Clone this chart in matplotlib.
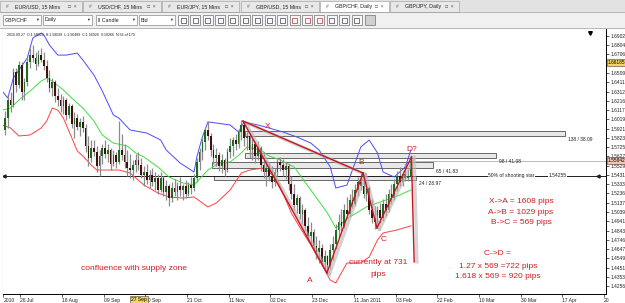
import matplotlib
matplotlib.use('Agg')
import matplotlib.pyplot as plt
from matplotlib.patches import Rectangle
import numpy as np

plt.rcParams['font.family'] = ['Liberation Sans', 'DejaVu Sans']

# GBP/CHF daily candles (Jul 2010 - Feb 2011)
opens = [1.5907, 1.6033, 1.6224, 1.6171, 1.6520, 1.6382, 1.6594, 1.6309, 1.6414, 1.6626,
         1.6699, 1.6667, 1.6605, 1.6699, 1.6647, 1.6584, 1.6456, 1.6350, 1.6414, 1.6267,
         1.6224, 1.6161, 1.6224, 1.6065, 1.6161, 1.5971, 1.6033, 1.5939, 1.5992, 1.5928,
         1.5738, 1.5610, 1.5716, 1.5674, 1.5527, 1.5632, 1.5716, 1.5653, 1.5695, 1.5548,
         1.5642, 1.5569, 1.5695, 1.5642, 1.5569, 1.5505, 1.5484, 1.5537, 1.5590, 1.5537,
         1.5431, 1.5463, 1.5378, 1.5431, 1.5357, 1.5399, 1.5273, 1.5399, 1.5252, 1.5315,
         1.5188, 1.5293, 1.5252, 1.5315, 1.5273, 1.5315, 1.5231, 1.5325, 1.5293, 1.5399,
         1.5569, 1.5674, 1.5780, 1.5907, 1.5844, 1.5695, 1.5610, 1.5642, 1.5527, 1.5590,
         1.5484, 1.5674, 1.5738, 1.5801, 1.5759, 1.5886, 1.5960, 1.5822, 1.5844, 1.5695,
         1.5759, 1.5632, 1.5716, 1.5537, 1.5463, 1.5505, 1.5421, 1.5357, 1.5463, 1.5569,
         1.5537, 1.5484, 1.5527, 1.5336, 1.5231, 1.5114, 1.5188, 1.5019, 1.5061, 1.4893,
         1.4787, 1.4829, 1.4681, 1.4617, 1.4659, 1.4512, 1.4575, 1.4480, 1.4638, 1.4702,
         1.4850, 1.4935, 1.4893, 1.5061, 1.5019, 1.5167, 1.5125, 1.5273, 1.5357, 1.5315,
         1.5231, 1.5293, 1.5061, 1.4976, 1.4935, 1.5061, 1.4976, 1.5125, 1.5061, 1.5231,
         1.5188, 1.5336, 1.5421, 1.5357, 1.5442, 1.5399, 1.5421]
highs = [1.6107, 1.6277, 1.6309, 1.6562, 1.6562, 1.6636, 1.6626, 1.6456, 1.6667, 1.6773,
         1.6805, 1.6731, 1.6752, 1.6773, 1.6731, 1.6647, 1.6541, 1.6456, 1.6435, 1.6350,
         1.6288, 1.6267, 1.6245, 1.6192, 1.6182, 1.6097, 1.6076, 1.6033, 1.6055, 1.5971,
         1.5844, 1.5801, 1.5801, 1.5738, 1.5695, 1.5759, 1.5801, 1.5759, 1.5716, 1.5695,
         1.5674, 1.6002, 1.5865, 1.5759, 1.5695, 1.5653, 1.5590, 1.5653, 1.5674, 1.5610,
         1.5527, 1.5548, 1.5484, 1.5505, 1.5463, 1.5442, 1.5463, 1.5421, 1.5378, 1.5336,
         1.5357, 1.5389, 1.5357, 1.5410, 1.5336, 1.5378, 1.5357, 1.5410, 1.5442, 1.5610,
         1.5716, 1.5822, 1.5939, 1.6002, 1.5875, 1.5759, 1.5716, 1.5674, 1.5653, 1.5610,
         1.5716, 1.5822, 1.5833, 1.5865, 1.5918, 1.6013, 1.5992, 1.5886, 1.5865, 1.5812,
         1.5790, 1.5790, 1.5738, 1.5674, 1.5590, 1.5569, 1.5527, 1.5505, 1.5600, 1.5621,
         1.5600, 1.5579, 1.5548, 1.5421, 1.5336, 1.5231, 1.5210, 1.5125, 1.5082, 1.4987,
         1.4935, 1.4861, 1.4787, 1.4744, 1.4702, 1.4638, 1.4585, 1.4702, 1.4787, 1.4914,
         1.5019, 1.5072, 1.5125, 1.5199, 1.5231, 1.5283, 1.5336, 1.5410, 1.5463, 1.5421,
         1.5368, 1.5315, 1.5178, 1.5104, 1.5104, 1.5135, 1.5178, 1.5231, 1.5283, 1.5336,
         1.5389, 1.5474, 1.5516, 1.5474, 1.5548, 1.5495, 1.5642]
lows = [1.5854, 1.5928, 1.6097, 1.6150, 1.6309, 1.6350, 1.6224, 1.6224, 1.6372, 1.6562,
        1.6626, 1.6541, 1.6584, 1.6626, 1.6541, 1.6414, 1.6309, 1.6267, 1.6203, 1.6161,
        1.6097, 1.6076, 1.6013, 1.6033, 1.5928, 1.5822, 1.5907, 1.5844, 1.5886, 1.5674,
        1.5527, 1.5569, 1.5632, 1.5463, 1.5421, 1.5548, 1.5610, 1.5569, 1.5484, 1.5527,
        1.5505, 1.5548, 1.5590, 1.5505, 1.5421, 1.5399, 1.5378, 1.5463, 1.5484, 1.5399,
        1.5315, 1.5336, 1.5293, 1.5315, 1.5273, 1.5231, 1.5252, 1.5210, 1.5167, 1.5104,
        1.5146, 1.5210, 1.5167, 1.5210, 1.5167, 1.5188, 1.5210, 1.5231, 1.5262, 1.5357,
        1.5484, 1.5590, 1.5695, 1.5801, 1.5632, 1.5548, 1.5527, 1.5474, 1.5452, 1.5421,
        1.5463, 1.5610, 1.5632, 1.5695, 1.5716, 1.5801, 1.5738, 1.5695, 1.5610, 1.5590,
        1.5558, 1.5590, 1.5474, 1.5399, 1.5315, 1.5368, 1.5293, 1.5315, 1.5421, 1.5474,
        1.5421, 1.5389, 1.5273, 1.5178, 1.5061, 1.5029, 1.4966, 1.4914, 1.4840, 1.4734,
        1.4681, 1.4628, 1.4544, 1.4501, 1.4470, 1.4416, 1.4385, 1.4438, 1.4533, 1.4649,
        1.4765, 1.4840, 1.4871, 1.4976, 1.4998, 1.5082, 1.5104, 1.5210, 1.5273, 1.5188,
        1.5156, 1.5019, 1.4924, 1.4861, 1.4893, 1.4924, 1.4945, 1.4998, 1.5040, 1.5125,
        1.5167, 1.5262, 1.5315, 1.5315, 1.5368, 1.5368, 1.5389]
closes = [1.6033, 1.6224, 1.6171, 1.6520, 1.6382, 1.6594, 1.6309, 1.6414, 1.6626, 1.6699,
          1.6667, 1.6605, 1.6699, 1.6647, 1.6584, 1.6456, 1.6350, 1.6414, 1.6267, 1.6224,
          1.6161, 1.6224, 1.6065, 1.6161, 1.5971, 1.6033, 1.5939, 1.5992, 1.5928, 1.5738,
          1.5610, 1.5716, 1.5674, 1.5527, 1.5632, 1.5716, 1.5653, 1.5695, 1.5548, 1.5642,
          1.5569, 1.5695, 1.5642, 1.5569, 1.5505, 1.5484, 1.5537, 1.5590, 1.5537, 1.5431,
          1.5463, 1.5378, 1.5431, 1.5357, 1.5399, 1.5273, 1.5399, 1.5252, 1.5315, 1.5188,
          1.5293, 1.5252, 1.5315, 1.5273, 1.5315, 1.5231, 1.5325, 1.5293, 1.5399, 1.5569,
          1.5674, 1.5780, 1.5907, 1.5844, 1.5695, 1.5610, 1.5642, 1.5527, 1.5590, 1.5484,
          1.5674, 1.5738, 1.5801, 1.5759, 1.5886, 1.5960, 1.5822, 1.5844, 1.5695, 1.5759,
          1.5632, 1.5716, 1.5537, 1.5463, 1.5505, 1.5421, 1.5357, 1.5463, 1.5569, 1.5537,
          1.5484, 1.5527, 1.5336, 1.5231, 1.5114, 1.5188, 1.5019, 1.5061, 1.4893, 1.4787,
          1.4829, 1.4681, 1.4617, 1.4659, 1.4512, 1.4575, 1.4480, 1.4638, 1.4702, 1.4850,
          1.4935, 1.4893, 1.5061, 1.5019, 1.5167, 1.5125, 1.5273, 1.5357, 1.5315, 1.5231,
          1.5293, 1.5061, 1.4976, 1.4935, 1.5061, 1.4976, 1.5125, 1.5061, 1.5231, 1.5188,
          1.5336, 1.5421, 1.5357, 1.5442, 1.5399, 1.5421, 1.5584]

# Bollinger bands (bar index, price)
upper_bars = [-1, 1, 3, 5, 8, 10, 13, 14, 16, 19, 22, 26, 28, 32, 35, 39, 41, 45, 51, 56,
              58, 63, 68, 69, 71, 73, 76, 81, 84, 86, 91, 95, 100, 105, 110, 113, 117, 119,
              123, 128, 131, 134, 136, 140, 144, 146]
upper_band = [1.6319, 1.6245, 1.6456, 1.6541, 1.6667, 1.6879, 1.6932, 1.6911, 1.6805, 1.6699,
              1.6699, 1.6720, 1.6647, 1.6488, 1.6319, 1.6065, 1.6033, 1.5907, 1.5875, 1.5801,
              1.5695, 1.5558, 1.5463, 1.5621, 1.5833, 1.5992, 1.5981, 1.5960, 1.5886, 1.5992,
              1.5960, 1.5928, 1.5886, 1.5833, 1.5769, 1.5695, 1.5516, 1.5294, 1.5325, 1.5727,
              1.5801, 1.5664, 1.5463, 1.5410, 1.5516, 1.5695]
mid_bars = [-1, 2, 5, 9, 13, 15, 17, 21, 24, 28, 32, 35, 39, 44, 47, 50, 55, 59, 64, 68,
            73, 77, 81, 85, 87, 92, 95, 99, 104, 110, 116, 119, 124, 130, 137, 142, 146]
mid_band = [1.6118, 1.6139, 1.6224, 1.6319, 1.6424, 1.6456, 1.6424, 1.6330, 1.6245, 1.6139,
            1.6002, 1.5854, 1.5769, 1.5738, 1.5664, 1.5621, 1.5516, 1.5410, 1.5347, 1.5325,
            1.5484, 1.5558, 1.5569, 1.5664, 1.5727, 1.5695, 1.5632, 1.5590, 1.5516, 1.5273,
            1.5029, 1.4871, 1.4987, 1.5093, 1.5167, 1.5220, 1.5273]
lower_bars = [-1, 2, 5, 9, 13, 15, 17, 19, 21, 23, 26, 28, 31, 33, 37, 41, 45, 50, 55, 59,
              64, 68, 73, 76, 81, 85, 88, 93, 95, 98, 103, 106, 110, 113, 117, 119, 123, 128,
              131, 134, 136, 141, 146]
lower_band = [1.5960, 1.5928, 1.5844, 1.5854, 1.5928, 1.6002, 1.6139, 1.6118, 1.6033, 1.5896,
              1.5685, 1.5632, 1.5537, 1.5484, 1.5484, 1.5484, 1.5452, 1.5325, 1.5241, 1.5199,
              1.5188, 1.5199, 1.5093, 1.5135, 1.5273, 1.5452, 1.5484, 1.5505, 1.5463, 1.5378,
              1.5029, 1.4882, 1.4691, 1.4533, 1.4321, 1.4290, 1.4501, 1.4501, 1.4564, 1.4744,
              1.4818, 1.4850, 1.4893]

# harmonic pattern points
pattern_names = ['X', 'A', 'B', 'C', 'D']
pattern_bars = [85.6, 115.8, 128.8, 133.8, 146.2]
pattern_prices = [1.6002, 1.4396, 1.5452, 1.4871, 1.5621]
current_end = (147.2, 1.4512)

# supply zone rectangles
zone_labels = ['138 / 38.09', '98 / 41.08', '65 / 41.83', '24 / 28.97']
zone_top = [1.5896, 1.5664, 1.5568, 1.5421]
zone_bottom = [1.5844, 1.5611, 1.5505, 1.5378]
zone_start = [86.3, 86.3, 74.5, 75.2]
zone_end = [201.4, 176.6, 154.0, 147.8]

half_star = 1.54255
bid_price = 1.55842
marker_price = 1.66185

price_ticks = [1.6902, 1.6804, 1.6706, 1.6509, 1.6411, 1.6312, 1.6216, 1.6117, 1.6019, 1.5921,
               1.5823, 1.5725, 1.5627, 1.5529, 1.5431, 1.5333, 1.5236, 1.5137, 1.5039, 1.4941,
               1.4843, 1.4746, 1.4647, 1.4549, 1.4451, 1.4353, 1.4256]
date_bars = [-0.6, 5.5, 20.5, 35.5, 50.5, 65.5, 80.5, 95.5, 110.5, 125.5, 140.5, 155.5, 170.5,
             185.5, 200.5, 215.5]
date_labels = ['2010', '26 Jul', '18 Aug', '09 Sep', '30 Sep', '21 Oct', '11 Nov', '02 Dec',
               '23 Dec', '11 Jan 2011', '03 Feb', '22 Feb', '10 Mar', '30 Mar', '17 Apr', '20']

W, H = 625, 303
fig = plt.figure(figsize=(W / 100, H / 100), dpi=100)

# window chrome drawn in pixel coordinates
ui = fig.add_axes([0, 0, 1, 1], zorder=0)
ui.set_xlim(0, W)
ui.set_ylim(H, 0)
ui.axis('off')
ui.add_patch(Rectangle((0, 0), W, 12, color='#e2e2e2'))
ui.add_patch(Rectangle((0, 12), W, 16, color='#f0f0f0'))
ui.plot([0, W], [12, 12], color='#a0a0a0', lw=0.5)
ui.plot([0, W], [28, 28], color='#a0a0a0', lw=0.5)

tabs = ['EUR/USD, 15 Mins', 'USD/CHF, 15 Mins', 'EUR/JPY, 15 Mins', 'GBP/USD, 15 Mins',
        'GBP/CHF, Daily', 'GBP/JPY, Daily']
tab_left = [0, 83, 162, 241, 320, 390]
tab_right = [82, 161, 239, 319, 389, 459]
for name, l, r in zip(tabs, tab_left, tab_right):
    active = name == 'GBP/CHF, Daily'
    ui.add_patch(Rectangle((l, 1), r - l, 11, facecolor='white' if active else '#e8e8e8',
                           edgecolor='#a8a8a8', lw=0.5))
    ui.text(l + 6, 6.5, '#', fontsize=3.5, color='#707070', va='center')
    ui.text(l + 15, 6.5, name, fontsize=3.8, color='#202020', va='center')
    ui.text(r - 14, 6.5, '\u25a1  \u00d7', fontsize=3.6, color='#505050', va='center')

combos = ['GBP/CHF', 'Daily', '\u2016 Candle', 'Bid']
combo_left = [3, 43, 96, 139]
combo_right = [41, 92, 137, 175]
for name, l, r in zip(combos, combo_left, combo_right):
    ui.add_patch(Rectangle((l, 15), r - l, 10, facecolor='white', edgecolor='#8a8a8a', lw=0.5))
    ui.text(l + 2, 20, name, fontsize=3.8, color='#202020', va='center')
    ui.text(r - 4, 20, '\u25bc', fontsize=2.8, color='#303030', va='center', ha='center')
for k in range(15):
    l = 178 + k * 12.4
    ui.add_patch(Rectangle((l, 15), 10, 10, facecolor='#f8f8f8', edgecolor='#707070', lw=0.5))
    ui.add_patch(Rectangle((l + 2.5, 17.5), 5, 5, facecolor='none',
                           edgecolor='#c03030' if k in (9, 10, 11) else '#404060', lw=0.5))
ui.add_patch(Rectangle((365, 15), 10, 10, facecolor='#d0d0d0', edgecolor='#707070', lw=0.5))

# chart
ax = fig.add_axes([3 / W, 9 / H, 603 / W, 265 / H], zorder=1)
ax.set_facecolor('white')
ax.set_xlim(-0.72, 216.2)
ax.set_ylim(1.4173, 1.6975)

for lab, top, bot, x0, x1 in zip(zone_labels, zone_top, zone_bottom, zone_start, zone_end):
    ax.add_patch(Rectangle((x0, bot), x1 - x0, top - bot, facecolor='#e6e6e6',
                           edgecolor='#404040', lw=0.6, alpha=0.9, zorder=2))
    ax.text(x1 + 1, bot - 0.0012, lab, fontsize=3.5, color='#202020', va='top', zorder=6)

ax.axhline(half_star, color='#202020', lw=0.7, zorder=2.5)
ax.text(190.5, half_star, '50% of shooting star', fontsize=3.6, ha='right', va='center',
        color='#202020', zorder=6, bbox=dict(facecolor='white', edgecolor='none', pad=0.3))
ax.text(195.4, half_star, '1.54255', fontsize=3.6, ha='left', va='center', color='#202020',
        zorder=6, bbox=dict(facecolor='white', edgecolor='none', pad=0.3))
ax.plot([213.5], [half_star], marker='<', ms=2.2, color='#202020', zorder=6)
ax.plot([-0.3], [half_star], marker='<', ms=2.2, color='#202020', zorder=6)

ax.plot([146.5, 216.2], [bid_price, bid_price], color='#a0a0a0', lw=0.5, zorder=2)

ax.plot(upper_bars, upper_band, color='#4a4aff', lw=0.7, zorder=2.6)
ax.plot(mid_bars, mid_band, color='#3ee03e', lw=0.7, zorder=2.6)
ax.plot(lower_bars, lower_band, color='#ff4040', lw=0.7, zorder=2.6)

x = np.arange(len(closes))
o = np.array(opens)
c = np.array(closes)
ax.vlines(x, lows, highs, color='#8c8c8c', lw=0.9, zorder=3)
body_col = ['#1c6a1c' if cc >= oo else '#3e1010' for oo, cc in zip(o, c)]
ax.bar(x, c - o, bottom=o, width=0.6, color=body_col, zorder=4)

# XABCD pattern with grey shadow
segments = [(0, 1), (1, 2), (0, 2), (2, 3), (3, 4)]
for a, b in segments:
    ax.plot([pattern_bars[a] + 0.9, pattern_bars[b] + 0.9],
            [pattern_prices[a] - 0.0015, pattern_prices[b] - 0.0015],
            color='#b4b4b4', lw=2.4, alpha=0.6, zorder=4.5, solid_capstyle='round')
    ax.plot([pattern_bars[a], pattern_bars[b]], [pattern_prices[a], pattern_prices[b]],
            color='#c8141e', lw=1.0, zorder=5)
ax.plot([pattern_bars[4] + 1.0, current_end[0] + 1.0], [pattern_prices[4], current_end[1]],
        color='#bcbcbc', lw=2.4, alpha=0.6, zorder=4.5)
ax.plot([pattern_bars[4], current_end[0]], [pattern_prices[4], current_end[1]],
        color='#c8141e', lw=1.0, zorder=5)

red = '#d01c24'
lab_pos = {'X': (94.6, 1.5939), 'A': (109.7, 1.4311), 'B': (128.0, 1.5568),
           'C': (136.3, 1.4744), 'D?': (146.4, 1.5700)}
for name, (bx, by) in lab_pos.items():
    ax.text(bx, by, name, fontsize=6, color=red, ha='center', va='center', zorder=6)

ax.text(134.2, 1.4501, 'currently at 731', fontsize=6, color=red, ha='center', va='center', zorder=6)
ax.text(134.2, 1.4374, 'pips', fontsize=6, color=red, ha='center', va='center', zorder=6)
ax.text(185.6, 1.5146, 'X->A = 1608 pips', fontsize=6, color=red, ha='center', va='center')
ax.text(185.6, 1.5040, 'A->B = 1029 pips', fontsize=6, color=red, ha='center', va='center')
ax.text(185.6, 1.4934, 'B->C = 569 pips', fontsize=6, color=red, ha='center', va='center')
ax.text(177.3, 1.4596, 'C->D =', fontsize=6, color=red, ha='center', va='center')
ax.text(177.3, 1.4469, '1.27 x 569 =722 pips', fontsize=6, color=red, ha='center', va='center')
ax.text(177.3, 1.4353, '1.618 x 569 = 920 pips', fontsize=6, color=red, ha='center', va='center')
ax.text(46.4, 1.4438, 'confluence with supply zone', fontsize=6, color=red, ha='center',
        va='center')

ax.text(0.006, 0.985, '2010.09.27  O:1.58023  H:1.58028  L:1.56489  C:1.56928  V:10266  N:56 of 170',
        transform=ax.transAxes, fontsize=2.6, color='#202020', va='top')
ax.plot([210.5], [1.6934], marker='v', ms=2.6, color='black', zorder=6)

# axes
for side in ['top', 'left']:
    ax.spines[side].set_visible(False)
ax.spines['right'].set_color('black')
ax.spines['bottom'].set_color('black')
ax.spines['right'].set_linewidth(0.7)
ax.spines['bottom'].set_linewidth(0.7)
ui.plot([2.5, 2.5], [29, 294], color='#909090', lw=0.8)

ax.yaxis.tick_right()
ax.set_yticks(price_ticks)
ax.set_yticklabels(['%.4f' % p for p in price_ticks])
ax.tick_params(axis='y', length=2, width=0.5, pad=1, labelsize=3.5, colors='#202020')
ax.set_xticks(date_bars)
ax.set_xticklabels(date_labels)
ax.tick_params(axis='x', length=2.5, width=0.5, pad=0.5, labelsize=3.6, colors='#202020')
plt.setp(ax.get_xticklabels(), ha='left')

# highlighted axis markers
ax.text(1.003, (marker_price - 1.4173) / (1.6975 - 1.4173), '1.66185', transform=ax.transAxes,
        fontsize=3.4, va='center', ha='left', zorder=7,
        bbox=dict(facecolor='#f3d36b', edgecolor='#404040', lw=0.4, pad=0.6))
ax.text(1.003, (bid_price - 1.4173) / (1.6975 - 1.4173), '1.55842', transform=ax.transAxes,
        fontsize=3.4, va='center', ha='left', zorder=7,
        bbox=dict(facecolor='#f2c4b4', edgecolor='#404040', lw=0.4, pad=0.6))
ax.text(45.4, -0.012, '27 Sep', transform=ax.get_xaxis_transform(), fontsize=3.6, va='top',
        ha='left', zorder=7, bbox=dict(facecolor='#f3d36b', edgecolor='#404040', lw=0.4, pad=0.6))

fig.savefig('out.png', dpi=100, facecolor='white')
